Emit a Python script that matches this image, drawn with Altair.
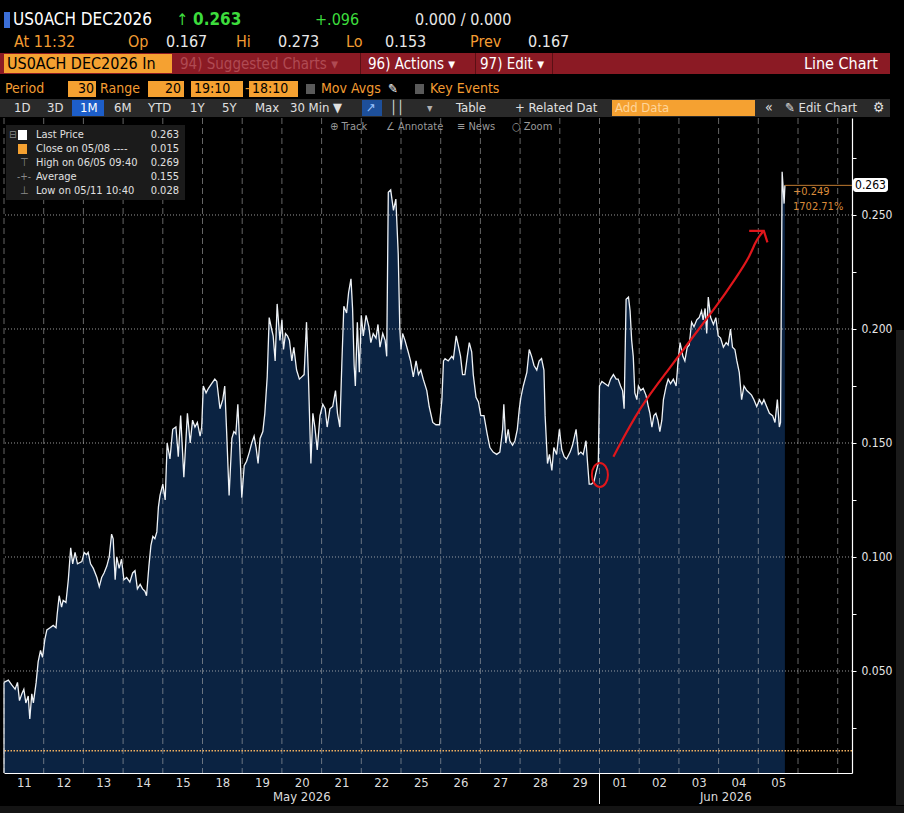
import altair as alt
import pandas as pd

# ------------------------------------------------------------------ data
DAY_LABELS = ["11", "12", "13", "14", "15", "18", "19", "20", "21", "22",
              "25", "26", "27", "28", "29", "01", "02", "03", "04", "05"]
MONTH_LABELS = ["May 2026", "Jun 2026"]
MONTH_START = [0, 15]

# position in trading days since 11 May (fractional) and price
T = [0.00, 0.11, 0.19, 0.28, 0.34, 0.39, 0.45, 0.50, 0.55, 0.61, 0.65, 0.70, 0.74, 0.81, 0.86, 0.92, 0.97,
     1.03, 1.08, 1.16, 1.24, 1.31, 1.34, 1.39, 1.45, 1.49, 1.56, 1.62, 1.68, 1.73, 1.79, 1.85, 1.96,
     2.02, 2.08, 2.12, 2.18, 2.25, 2.34, 2.40, 2.46, 2.52, 2.59, 2.65, 2.71, 2.75, 2.80, 2.84, 2.90, 2.96,
     3.02, 3.09, 3.17, 3.24, 3.30, 3.36, 3.43, 3.49, 3.55, 3.59, 3.65, 3.70, 3.75, 3.80, 3.85, 3.89, 3.93,
     4.00, 4.06, 4.11, 4.18, 4.25, 4.33, 4.39, 4.45, 4.53, 4.62, 4.69, 4.75, 4.81, 4.87, 4.94, 4.98,
     5.02, 5.09, 5.15, 5.23, 5.31, 5.36, 5.44, 5.51, 5.56, 5.61, 5.67, 5.74, 5.79, 5.84, 5.89, 5.93, 5.99,
     6.05, 6.11, 6.18, 6.24, 6.30, 6.35, 6.40, 6.45, 6.52, 6.57, 6.63, 6.68, 6.74, 6.78, 6.83, 6.88, 6.95,
     7.00, 7.04, 7.09, 7.14, 7.19, 7.25, 7.30, 7.37, 7.44, 7.50, 7.56, 7.62, 7.67, 7.73, 7.78, 7.83, 7.89, 7.96,
     8.03, 8.09, 8.14, 8.21, 8.28, 8.35, 8.40, 8.46, 8.51, 8.56, 8.63, 8.68, 8.74, 8.78, 8.82, 8.85, 8.90, 8.95,
     9.00, 9.05, 9.12, 9.19, 9.24, 9.30, 9.37, 9.42, 9.47, 9.54, 9.60, 9.64, 9.68, 9.74, 9.81, 9.87, 9.93, 9.97,
     10.00, 10.04, 10.10, 10.18, 10.24, 10.31, 10.38, 10.44, 10.50, 10.56, 10.65, 10.71, 10.80, 10.88, 10.97,
     11.03, 11.07, 11.11, 11.19, 11.28, 11.32, 11.39, 11.44, 11.50, 11.55, 11.61, 11.67, 11.72, 11.78, 11.82,
     11.89, 11.95,
     12.01, 12.09, 12.17, 12.24, 12.32, 12.41, 12.49, 12.56, 12.59, 12.64, 12.70, 12.74, 12.81, 12.87, 12.93, 12.98,
     13.02, 13.08, 13.17, 13.23, 13.29, 13.35, 13.42, 13.48, 13.54, 13.60, 13.63, 13.69, 13.74, 13.80, 13.85,
     13.92, 13.99,
     14.05, 14.11, 14.17, 14.26, 14.32, 14.41, 14.47, 14.53, 14.59, 14.66, 14.70, 14.74, 14.80, 14.86, 14.91, 14.97,
     15.00, 15.06, 15.14, 15.22, 15.28, 15.35, 15.42, 15.47, 15.53, 15.58, 15.62, 15.67, 15.73, 15.77, 15.81,
     15.85, 15.89, 15.94, 15.98,
     16.04, 16.10, 16.17, 16.23, 16.27, 16.32, 16.37, 16.42, 16.47, 16.52, 16.57, 16.61, 16.68, 16.73, 16.79,
     16.86, 16.93, 16.98,
     17.03, 17.10, 17.15, 17.21, 17.26, 17.32, 17.38, 17.45, 17.51, 17.57, 17.61, 17.66, 17.70, 17.74, 17.80,
     17.87, 17.93, 17.99,
     18.05, 18.12, 18.19, 18.24, 18.30, 18.35, 18.41, 18.46, 18.52, 18.58, 18.64, 18.71, 18.77, 18.83, 18.89, 18.96,
     19.03, 19.09, 19.14, 19.21, 19.28, 19.36, 19.42, 19.48, 19.53, 19.56, 19.60, 19.65, 19.67]
V = [0.045, 0.046, 0.044, 0.042, 0.045, 0.037, 0.040, 0.042, 0.036, 0.039, 0.029, 0.040, 0.036, 0.045, 0.054, 0.059, 0.056,
     0.064, 0.068, 0.069, 0.070, 0.069, 0.075, 0.083, 0.078, 0.081, 0.080, 0.090, 0.104, 0.097, 0.102, 0.097, 0.098,
     0.102, 0.101, 0.102, 0.097, 0.095, 0.091, 0.087, 0.091, 0.093, 0.096, 0.100, 0.110, 0.108, 0.090, 0.100, 0.095, 0.099,
     0.090, 0.091, 0.089, 0.093, 0.094, 0.086, 0.088, 0.086, 0.085, 0.083, 0.096, 0.105, 0.109, 0.108, 0.111, 0.122, 0.127,
     0.132, 0.125, 0.150, 0.143, 0.156, 0.157, 0.144, 0.162, 0.135, 0.163, 0.150, 0.160, 0.157, 0.159, 0.153, 0.157,
     0.175, 0.172, 0.174, 0.176, 0.178, 0.177, 0.165, 0.169, 0.175, 0.154, 0.127, 0.152, 0.155, 0.154, 0.167, 0.152, 0.126,
     0.140, 0.142, 0.146, 0.150, 0.153, 0.148, 0.141, 0.152, 0.155, 0.163, 0.179, 0.205, 0.200, 0.197, 0.186, 0.211, 0.195,
     0.204, 0.191, 0.198, 0.197, 0.195, 0.186, 0.192, 0.182, 0.178, 0.179, 0.180, 0.203, 0.178, 0.141, 0.163, 0.157, 0.147, 0.162,
     0.167, 0.165, 0.157, 0.165, 0.166, 0.173, 0.163, 0.157, 0.185, 0.210, 0.207, 0.216, 0.222, 0.209, 0.184, 0.175, 0.203, 0.181,
     0.206, 0.197, 0.206, 0.201, 0.194, 0.198, 0.196, 0.202, 0.192, 0.198, 0.195, 0.188, 0.260, 0.261, 0.252, 0.257, 0.233, 0.200,
     0.191, 0.198, 0.195, 0.190, 0.186, 0.179, 0.186, 0.180, 0.182, 0.178, 0.173, 0.166, 0.159, 0.158, 0.158,
     0.169, 0.186, 0.187, 0.186, 0.188, 0.187, 0.197, 0.193, 0.188, 0.180, 0.180, 0.188, 0.194, 0.190, 0.180,
     0.170, 0.168,
     0.162, 0.162, 0.154, 0.148, 0.146, 0.145, 0.146, 0.156, 0.167, 0.150, 0.156, 0.151, 0.149, 0.151, 0.156, 0.165,
     0.170, 0.175, 0.181, 0.191, 0.188, 0.184, 0.182, 0.186, 0.187, 0.182, 0.162, 0.141, 0.145, 0.138, 0.148,
     0.145, 0.156,
     0.147, 0.144, 0.143, 0.146, 0.149, 0.156, 0.145, 0.146, 0.145, 0.151, 0.141, 0.132, 0.132, 0.133, 0.137, 0.141,
     0.175, 0.177, 0.176, 0.175, 0.178, 0.180, 0.178, 0.178, 0.175, 0.173, 0.165, 0.213, 0.214, 0.208, 0.195,
     0.188, 0.172, 0.169, 0.175,
     0.173, 0.174, 0.171, 0.166, 0.163, 0.157, 0.162, 0.163, 0.160, 0.155, 0.160, 0.169, 0.175, 0.178, 0.176,
     0.178, 0.175, 0.186,
     0.194, 0.188, 0.186, 0.192, 0.193, 0.203, 0.201, 0.204, 0.205, 0.208, 0.204, 0.209, 0.198, 0.214, 0.205,
     0.202, 0.205, 0.197,
     0.196, 0.192, 0.194, 0.193, 0.200, 0.192, 0.191, 0.186, 0.181, 0.169, 0.175, 0.173, 0.172, 0.171, 0.169, 0.166,
     0.169, 0.167, 0.169, 0.166, 0.163, 0.162, 0.159, 0.169, 0.157, 0.159, 0.269, 0.255, 0.263]

Y_TICKS = [0.025, 0.050, 0.075, 0.100, 0.125, 0.150, 0.175, 0.200, 0.225, 0.250, 0.275]
Y_GRID = [0.050, 0.100, 0.150, 0.200, 0.250]
CLOSE_0508 = 0.015
LEGEND_NAMES = ["Last Price", "Close on 05/08 ----", "High on 06/05 09:40", "Average", "Low on 05/11 10:40"]
LEGEND_VALUES = ["0.263", "0.015", "0.269", "0.155", "0.028"]
CHANGE_TEXT = ["+0.249", "1702.71%"]

# hand-drawn red annotation (in chart units)
ARROW_T = [15.35, 16.02, 16.78, 17.28, 17.95, 18.46, 18.79, 18.92, 19.04, 19.13]
ARROW_V = [0.144, 0.166, 0.183, 0.195, 0.210, 0.223, 0.232, 0.238, 0.241, 0.243]
HEAD_T = [18.77, 19.14, 19.23]
HEAD_V = [0.243, 0.243, 0.238]
CIRCLE_T = [15.01]
CIRCLE_V = [0.136]

# ------------------------------------------------------------------ styles
FONT = "Liberation Sans Narrow, DejaVu Sans Condensed, Arial Narrow, Roboto Condensed, sans-serif"
NAVY = "#0b2342"
ORANGE = "#f5a131"
ORANGE_TXT = "#f39c32"
WHITE = "#e8e8e8"
GREEN = "#3ddc3d"
RED = "#e0161b"

W, H = 848, 655
OX, OY = 4, 118            # plot-area origin in the page
X_DOMAIN = [0, 21.36]
Y_DOMAIN = [0.00526, 0.29254]

xs = alt.Scale(domain=X_DOMAIN, nice=False, zero=False)
ys = alt.Scale(domain=Y_DOMAIN, nice=False, zero=False)

series = pd.DataFrame({"t": T, "v": V})

label_expr = str(DAY_LABELS) + "[floor(datum.value)]"
x_axis = alt.Axis(values=[i + 0.5 for i in range(len(DAY_LABELS))], labelExpr=label_expr,
                  ticks=False, domainColor="#ffffff", domainWidth=1.2, labelColor="#dcdcdc",
                  labelFontSize=13, labelFont=FONT, labelPadding=3, labelOverlap=False,
                  grid=False, title=None)
y_axis = alt.Axis(orient="right", values=Y_TICKS,
                  labelExpr="round(datum.value*1000) % 50 == 0 ? format(datum.value, '.3f') : ''",
                  tickSize=4, tickColor="#ffffff", domainColor="#ffffff", domainWidth=1.2,
                  labelColor="#e6e6e6", labelFontSize=12, labelFont=FONT, labelPadding=5,
                  labelOverlap=False, grid=False, title=None)


def X(field):
    return alt.X(field, scale=xs)


def Y(field):
    return alt.Y(field, scale=ys)


area = alt.Chart(series).mark_area(color=NAVY, clip=True).encode(
    x=alt.X("t:Q", scale=xs, axis=x_axis),
    y=alt.Y("v:Q", scale=ys, axis=y_axis),
)

vgrid = alt.Chart(pd.DataFrame({"t": list(range(0, 22))})).mark_rule(
    color="#b8b8b8", opacity=0.55, strokeDash=[6, 4], strokeWidth=1).encode(x=X("t:Q"))

hgrid = alt.Chart(pd.DataFrame({"v": Y_GRID})).mark_rule(
    color="#bdbdbd", opacity=0.8, strokeDash=[1, 2], strokeWidth=1).encode(y=Y("v:Q"))

close_rule = alt.Chart(pd.DataFrame({"v": [CLOSE_0508]})).mark_rule(
    color="#f0b060", strokeDash=[1.5, 1.5], strokeWidth=1.6).encode(y=Y("v:Q"))

line = alt.Chart(series).mark_line(color="#eef2f6", strokeWidth=1.3).encode(x=X("t:Q"), y=Y("v:Q"))

left_edge = alt.Chart(pd.DataFrame({"t": [T[0]], "v": [V[0]]})).mark_rule(
    color="#eef2f6", strokeWidth=1.2).encode(x=X("t:Q"), y=Y("v:Q"), y2=alt.datum(Y_DOMAIN[0]))

last_rule = alt.Chart(pd.DataFrame({"t": [T[-1]], "v": [V[-1]]})).mark_rule(
    color="#c07a30", strokeWidth=1).encode(x=X("t:Q"), x2=alt.datum(X_DOMAIN[1]), y=Y("v:Q"))

month_df = pd.DataFrame({
    "m": MONTH_LABELS,
    "t": [(MONTH_START[0] + MONTH_START[1]) / 2, (MONTH_START[1] + X_DOMAIN[1]) / 2],
})
months = alt.Chart(month_df).mark_text(font=FONT, fontSize=13, color="#dcdcdc", baseline="middle").encode(
    x=X("t:Q"), y=alt.value(H + 24), text="m:N")

month_sep = alt.Chart(pd.DataFrame({"t": [MONTH_START[1]]})).mark_rule(color="#ffffff", strokeWidth=1).encode(
    x=X("t:Q"), y=alt.value(H), y2=alt.value(H + 31))

arrow = alt.Chart(pd.DataFrame({"t": ARROW_T, "v": ARROW_V, "o": range(len(ARROW_T))})).mark_line(
    color=RED, strokeWidth=2.2, interpolate="basis").encode(x=X("t:Q"), y=Y("v:Q"), order="o:Q")
head = alt.Chart(pd.DataFrame({"t": HEAD_T, "v": HEAD_V, "o": range(len(HEAD_T))})).mark_line(
    color=RED, strokeWidth=2.2).encode(x=X("t:Q"), y=Y("v:Q"), order="o:Q")
ELLIPSE = "M-0.67,0A0.67,1,0,1,0,0.67,0A0.67,1,0,1,0,-0.67,0Z"
circle = alt.Chart(pd.DataFrame({"t": CIRCLE_T, "v": CIRCLE_V})).mark_point(
    shape=ELLIPSE, size=576, filled=False, color=RED, strokeWidth=2, opacity=1).encode(
    x=X("t:Q"), y=Y("v:Q"))

# ------------------------------------------------------------------ terminal chrome (page pixels)
ONE = alt.Data(values=[{"k": 0}])

RECTS = [
    (0, 53, 890, 74, "#8b1a24"),            # red toolbar
    (4, 54, 172, 73, ORANGE),               # security box
    (360, 53, 361, 74, "#5a0f14"),
    (475, 53, 476, 74, "#5a0f14"),
    (552, 53, 553, 74, "#5a0f14"),
    (4, 12, 10, 28, "#3b6fd8"),             # blue marker
    (68, 81, 96, 97, ORANGE),
    (148, 81, 184, 97, ORANGE),
    (191, 81, 243, 97, ORANGE),
    (249, 81, 298, 97, ORANGE),
    (306, 84, 315, 94, "#5a5a5a"),
    (415, 84, 424, 94, "#5a5a5a"),
    (0, 99, 890, 117, "#2a2a2a"),           # button bar
    (72, 100, 104, 116, "#1d5ec9"),
    (362, 100, 382, 116, "#1d4f9a"),
    (612, 100, 755, 116, ORANGE),
    (6, 125, 185, 200, "#1b1b1b"),          # legend box
    (18, 130, 27, 140, "#ffffff"),
    (18, 144, 27, 154, ORANGE),
    (896, 330, 904, 805, "#1a1a1a"),
    (0, 806, 904, 813, "#141414"),
]
rect_layers = []
for (x1, y1, x2, y2, c) in RECTS:
    rect_layers.append(alt.Chart(ONE).mark_rect(color=c).encode(
        x=alt.value(x1 - OX), x2=alt.value(x2 - OX), y=alt.value(y1 - OY), y2=alt.value(y2 - OY)))

# text, x, y, color, size, align, weight
TEXTS = [
    ("US0ACH DEC2026", 13, 20, "#ffffff", 17, "left", "normal"),
    ("\u2191", 176, 20, GREEN, 16, "left", "normal"),
    ("0.263", 193, 20, GREEN, 17, "left", "bold"),
    ("+.096", 315, 20, GREEN, 16, "left", "normal"),
    ("0.000 / 0.000", 415, 20, WHITE, 16, "left", "normal"),
    ("At 11:32", 14, 42, ORANGE_TXT, 16, "left", "normal"),
    ("Op", 128, 42, ORANGE_TXT, 16, "left", "normal"),
    ("0.167", 166, 42, WHITE, 16, "left", "normal"),
    ("Hi", 236, 42, ORANGE_TXT, 16, "left", "normal"),
    ("0.273", 278, 42, WHITE, 16, "left", "normal"),
    ("Lo", 346, 42, ORANGE_TXT, 16, "left", "normal"),
    ("0.153", 385, 42, WHITE, 16, "left", "normal"),
    ("Prev", 470, 42, ORANGE_TXT, 16, "left", "normal"),
    ("0.167", 528, 42, WHITE, 16, "left", "normal"),
    ("US0ACH DEC2026 In", 7, 64, "#000000", 16, "left", "normal"),
    ("94) Suggested Charts \u25be", 180, 64, "#b04a53", 15, "left", "normal"),
    ("96) Actions \u25be", 368, 64, "#ffffff", 15, "left", "normal"),
    ("97) Edit \u25be", 480, 64, "#ffffff", 15, "left", "normal"),
    ("Line Chart", 878, 64, "#ffffff", 16, "right", "normal"),
    ("Period", 5, 89, ORANGE_TXT, 14, "left", "normal"),
    ("30", 94, 89, "#000000", 14, "right", "normal"),
    ("Range", 100, 89, ORANGE_TXT, 14, "left", "normal"),
    ("20", 181, 89, "#000000", 14, "right", "normal"),
    ("19:10", 194, 89, "#000000", 14, "left", "normal"),
    ("-", 245, 89, ORANGE_TXT, 14, "left", "normal"),
    ("18:10", 252, 89, "#000000", 14, "left", "normal"),
    ("Mov Avgs", 321, 89, ORANGE_TXT, 14, "left", "normal"),
    ("\u270e", 388, 89, "#ffffff", 13, "left", "normal"),
    ("Key Events", 430, 89, ORANGE_TXT, 14, "left", "normal"),
    ("1D", 14, 108, "#e0e0e0", 13, "left", "normal"),
    ("3D", 47, 108, "#e0e0e0", 13, "left", "normal"),
    ("1M", 80, 108, "#ffffff", 13, "left", "normal"),
    ("6M", 114, 108, "#e0e0e0", 13, "left", "normal"),
    ("YTD", 148, 108, "#e0e0e0", 13, "left", "normal"),
    ("1Y", 190, 108, "#e0e0e0", 13, "left", "normal"),
    ("5Y", 222, 108, "#e0e0e0", 13, "left", "normal"),
    ("Max", 255, 108, "#e0e0e0", 13, "left", "normal"),
    ("30 Min \u25bc", 290, 108, "#e0e0e0", 13, "left", "normal"),
    ("\u2197", 366, 108, "#9cc4ff", 13, "left", "normal"),
    ("\u2502\u2502", 390, 108, "#e0e0e0", 13, "left", "normal"),
    ("\u25be", 427, 108, "#b0b0b0", 12, "left", "normal"),
    ("Table", 456, 108, "#e0e0e0", 13, "left", "normal"),
    ("+ Related Dat", 515, 108, "#e0e0e0", 13, "left", "normal"),
    ("Add Data", 615, 108, "#ffd59a", 13, "left", "normal"),
    ("\u00ab", 765, 108, "#e0e0e0", 14, "left", "normal"),
    ("\u270e Edit Chart", 785, 108, "#e0e0e0", 13, "left", "normal"),
    ("\u2699", 873, 108, "#e0e0e0", 14, "left", "normal"),
    ("\u2295 Track", 330, 127, "#9a9a9a", 11, "left", "normal"),
    ("\u2220 Annotate", 386, 127, "#9a9a9a", 11, "left", "normal"),
    ("\u2261 News", 457, 127, "#9a9a9a", 11, "left", "normal"),
    ("\u25cb Zoom", 512, 127, "#9a9a9a", 11, "left", "normal"),
    ("\u229f", 9, 135, "#8a8a8a", 10, "left", "normal"),
    ("\u22a4", 20, 163, "#8a8a8a", 11, "left", "normal"),
    ("-+-", 17, 177, "#8a8a8a", 10, "left", "normal"),
    ("\u22a5", 20, 191, "#8a8a8a", 11, "left", "normal"),
    (CHANGE_TEXT[0], 793, 192, "#d98b3a", 11, "left", "normal"),
    (CHANGE_TEXT[1], 793, 207, "#d98b3a", 11, "left", "normal"),
]
for i, (n, val) in enumerate(zip(LEGEND_NAMES, LEGEND_VALUES)):
    TEXTS.append((n, 36, 135 + 14 * i, "#e0e0e0", 11, "left", "normal"))
    TEXTS.append((val, 179, 135 + 14 * i, "#e0e0e0", 11, "right", "normal"))

text_layers = []
for (s, x, y, c, z, a, w) in TEXTS:
    text_layers.append(alt.Chart(ONE).mark_text(
        text=s, font=FONT, fontSize=z, color=c, align=a, baseline="middle", fontWeight=w).encode(
        x=alt.value(x - OX), y=alt.value(y - OY)))

# price tag
tag = alt.Chart(ONE).mark_rect(color="#ffffff", cornerRadius=3).encode(
    x=alt.value(853 - OX), x2=alt.value(888 - OX), y=alt.value(178 - OY), y2=alt.value(192 - OY))
tag_text = alt.Chart(pd.DataFrame({"s": [LEGEND_VALUES[0]], "v": [V[-1]]})).mark_text(
    font=FONT, fontSize=12, color="#000000", baseline="middle", align="center").encode(
    x=alt.value(870.5 - OX), y=Y("v:Q"), text="s:N")

chart = alt.layer(
    area, vgrid, hgrid, close_rule, line, left_edge, last_rule, months, month_sep,
    arrow, head, circle, *rect_layers, *text_layers, tag, tag_text,
).properties(
    width=W, height=H,
    autosize=alt.AutoSizeParams(type="none"),
    padding={"left": OX, "top": OY, "right": 904 - OX - W, "bottom": 813 - OY - H},
    background="#000000",
).configure_view(stroke=None)

chart.save("out.html", embed_options={"renderer": "svg", "actions": False})
